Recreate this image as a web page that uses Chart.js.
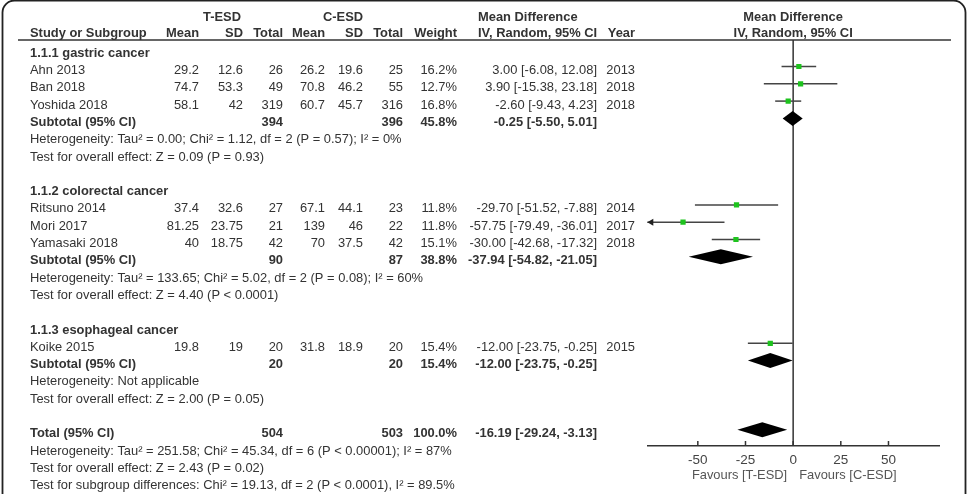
<!DOCTYPE html>
<html><head><meta charset="utf-8">
<script src="https://cdn.jsdelivr.net/npm/chart.js@4/dist/chart.umd.min.js"></script>
<style>html,body{margin:0;padding:0;background:#fff;}canvas{display:block;}</style>
</head><body>
<canvas id="c" width="969" height="494"></canvas>
<script>
// ---- data ----
const studies   = ["Ahn 2013","Ban 2018","Yoshida 2018","Ritsuno 2014","Mori 2017","Yamasaki 2018","Koike 2015"];
const studyRows = [1,2,3,9,10,11,17];
const tMean  = [29.2,74.7,58.1,37.4,81.25,40,19.8];
const tSD    = [12.6,53.3,42,32.6,23.75,18.75,19];
const tTotal = [26,49,319,27,21,42,20];
const cMean  = [26.2,70.8,60.7,67.1,139,70,31.8];
const cSD    = [19.6,46.2,45.7,44.1,46,37.5,18.9];
const cTotal = [25,55,316,23,22,42,20];
const weight = [16.2,12.7,16.8,11.8,11.8,15.1,15.4];
const md     = [3.00,3.90,-2.60,-29.70,-57.75,-30.00,-12.00];
const mdLo   = [-6.08,-15.38,-9.43,-51.52,-79.49,-42.68,-23.75];
const mdHi   = [12.08,23.18,4.23,-7.88,-36.01,-17.32,-0.25];
const years  = [2013,2018,2018,2014,2017,2018,2015];

const groups      = ["1.1.1 gastric cancer","1.1.2 colorectal cancer","1.1.3 esophageal cancer"];
const groupRows   = [0,8,16];
const subRows     = [4,12,18];
const subT        = [394,90,20];
const subC        = [396,87,20];
const subW        = [45.8,38.8,15.4];
const subMd       = [-0.25,-37.94,-12.00];
const subLo       = [-5.50,-54.82,-23.75];
const subHi       = [5.01,-21.05,-0.25];
const hetText     = ["Heterogeneity: Tau² = 0.00; Chi² = 1.12, df = 2 (P = 0.57); I² = 0%",
                     "Heterogeneity: Tau² = 133.65; Chi² = 5.02, df = 2 (P = 0.08); I² = 60%",
                     "Heterogeneity: Not applicable"];
const effText     = ["Test for overall effect: Z = 0.09 (P = 0.93)",
                     "Test for overall effect: Z = 4.40 (P < 0.0001)",
                     "Test for overall effect: Z = 2.00 (P = 0.05)"];

const totalRow = 22;
const totalT = 504, totalC = 503, totalW = 100.0;
const totalMd = -16.19, totalLo = -29.24, totalHi = -3.13;
const totalTexts = ["Heterogeneity: Tau² = 251.58; Chi² = 45.34, df = 6 (P < 0.00001); I² = 87%",
                    "Test for overall effect: Z = 2.43 (P = 0.02)",
                    "Test for subgroup differences: Chi² = 19.13, df = 2 (P < 0.0001), I² = 89.5%"];

const xTicks = [-50,-25,0,25,50];
const favLeft = "Favours [T-ESD]", favRight = "Favours [C-ESD]";

// ---- drawing ----
const FONT = '"Liberation Sans", Arial, Helvetica, sans-serif';
const TXT = '#333';
const FS = 12.9;
Chart.defaults.font.family = FONT;

function fmtCI(m,l,h){ return m.toFixed(2)+" ["+l.toFixed(2)+", "+h.toFixed(2)+"]"; }

const forest = {
  id:'forest',
  beforeDatasetsDraw(chart){
    const ctx = chart.ctx, X = chart.scales.x, Y = chart.scales.y;
    const area = chart.chartArea;
    const x0 = X.getPixelForValue(0);
    const ty = r => Y.getPixelForValue(r) + 4;
    function txt(s, x, y, align, bold, color, size){
      ctx.font = (bold ? 'bold ' : '') + (size||FS) + 'px ' + FONT;
      ctx.fillStyle = color || TXT;
      ctx.textAlign = align; ctx.textBaseline = 'middle';
      ctx.fillText(s, x, y);
    }
    ctx.save();
    // header underline
    ctx.strokeStyle = '#333'; ctx.lineWidth = 1.5;
    ctx.beginPath(); ctx.moveTo(18, 40); ctx.lineTo(951, 40); ctx.stroke();
    // zero line
    ctx.beginPath(); ctx.moveTo(x0, 40); ctx.lineTo(x0, area.bottom); ctx.stroke();
    // tick marks (upward)
    xTicks.forEach(v => {
      const px = X.getPixelForValue(v);
      ctx.beginPath(); ctx.moveTo(px, area.bottom); ctx.lineTo(px, area.bottom - 5); ctx.stroke();
    });
    // CI lines
    ctx.strokeStyle = '#444'; ctx.lineWidth = 1.5;
    studies.forEach((s,i) => {
      const y = Y.getPixelForValue(studyRows[i]);
      const l = Math.max(mdLo[i], X.min), h = Math.min(mdHi[i], X.max);
      const pl = X.getPixelForValue(l), ph = X.getPixelForValue(h);
      ctx.beginPath(); ctx.moveTo(pl, y); ctx.lineTo(ph, y); ctx.stroke();
      if (mdLo[i] < X.min) {
        ctx.fillStyle = '#222';
        ctx.beginPath(); ctx.moveTo(pl, y); ctx.lineTo(pl+6, y-3.5); ctx.lineTo(pl+6, y+3.5); ctx.closePath(); ctx.fill();
      }
    });
    // diamonds
    function diamond(m,l,h,r){
      const y = Y.getPixelForValue(r), hh = 7.5;
      ctx.fillStyle = '#000';
      ctx.beginPath();
      ctx.moveTo(X.getPixelForValue(l), y);
      ctx.lineTo(X.getPixelForValue(m), y - hh);
      ctx.lineTo(X.getPixelForValue(h), y);
      ctx.lineTo(X.getPixelForValue(m), y + hh);
      ctx.closePath(); ctx.fill();
    }
    subRows.forEach((r,i) => diamond(subMd[i], subLo[i], subHi[i], r));
    diamond(totalMd, totalLo, totalHi, totalRow);

    // header text
    txt("T-ESD", 222, 17, 'center', true);
    txt("C-ESD", 343, 17, 'center', true);
    txt("Mean Difference", 478, 17, 'left', true);
    txt("Mean Difference", x0, 17, 'center', true);
    const h2 = 33.5;
    txt("Study or Subgroup", 30, h2, 'left', true);
    txt("Mean", 199, h2, 'right', true);
    txt("SD", 243, h2, 'right', true);
    txt("Total", 283, h2, 'right', true);
    txt("Mean", 325, h2, 'right', true);
    txt("SD", 363, h2, 'right', true);
    txt("Total", 403, h2, 'right', true);
    txt("Weight", 457, h2, 'right', true);
    txt("IV, Random, 95% CI", 478, h2, 'left', true);
    txt("Year", 635, h2, 'right', true);
    txt("IV, Random, 95% CI", x0, h2, 'center', true);

    // groups
    groups.forEach((g,i) => {
      txt(g, 30, ty(groupRows[i]), 'left', true);
      const sy = ty(subRows[i]);
      txt("Subtotal (95% CI)", 30, sy, 'left', true);
      txt(String(subT[i]), 283, sy, 'right', true);
      txt(String(subC[i]), 403, sy, 'right', true);
      txt(subW[i].toFixed(1)+"%", 457, sy, 'right', true);
      txt(fmtCI(subMd[i], subLo[i], subHi[i]), 597, sy, 'right', true);
      txt(hetText[i], 30, ty(subRows[i]+1), 'left', false);
      txt(effText[i], 30, ty(subRows[i]+2), 'left', false);
    });
    // studies
    studies.forEach((s,i) => {
      const y = ty(studyRows[i]);
      txt(s, 30, y, 'left');
      txt(String(tMean[i]), 199, y, 'right');
      txt(String(tSD[i]), 243, y, 'right');
      txt(String(tTotal[i]), 283, y, 'right');
      txt(String(cMean[i]), 325, y, 'right');
      txt(String(cSD[i]), 363, y, 'right');
      txt(String(cTotal[i]), 403, y, 'right');
      txt(weight[i].toFixed(1)+"%", 457, y, 'right');
      txt(fmtCI(md[i], mdLo[i], mdHi[i]), 597, y, 'right');
      txt(String(years[i]), 635, y, 'right');
    });
    // total
    const tyy = ty(totalRow);
    txt("Total (95% CI)", 30, tyy, 'left', true);
    txt(String(totalT), 283, tyy, 'right', true);
    txt(String(totalC), 403, tyy, 'right', true);
    txt(totalW.toFixed(1)+"%", 457, tyy, 'right', true);
    txt(fmtCI(totalMd, totalLo, totalHi), 597, tyy, 'right', true);
    totalTexts.forEach((t,k) => txt(t, 30, ty(totalRow+1+k), 'left'));
    // favours
    txt(favLeft, x0 - 6, 475.5, 'right', false, '#555');
    txt(favRight, x0 + 6, 475.5, 'left', false, '#555');
    ctx.restore();
  },
  afterDraw(chart){
    const ctx = chart.ctx;
    ctx.save();
    ctx.strokeStyle = '#222'; ctx.lineWidth = 1.8;
    ctx.beginPath();
    ctx.roundRect(2.5, 0.5, 963, 520, 12);
    ctx.stroke();
    ctx.restore();
  }
};

new Chart(document.getElementById('c'), {
  type: 'scatter',
  data: { datasets: [{
    data: studies.map((s,i) => ({x: md[i], y: studyRows[i]})),
    pointStyle: 'rect', pointRadius: 3.7, pointHoverRadius: 3.7,
    backgroundColor: '#1ec31e', borderWidth: 0
  }]},
  options: {
    responsive: false, animation: false,
    layout: { padding: { left: 647.3, right: 30, top: 40, bottom: 0 } },
    plugins: { legend: {display:false}, tooltip: {enabled:false} },
    scales: {
      x: { type:'linear', min:-76.5, max:76.5,
           afterBuildTicks: s => { s.ticks = xTicks.map(v => ({value:v})); },
           afterFit: s => { s.height = 48; },
           grid: { display:false, drawTicks:false },
           border: { display:true, color:'#333', width:1.5 },
           ticks: { font:{size:13.5, family:FONT}, color:'#444', padding:6, maxRotation:0, autoSkip:false } },
      y: { type:'linear', display:false, reverse:true, min:-0.532, max:22.937 }
    }
  },
  plugins: [forest]
});
</script>
</body></html>
